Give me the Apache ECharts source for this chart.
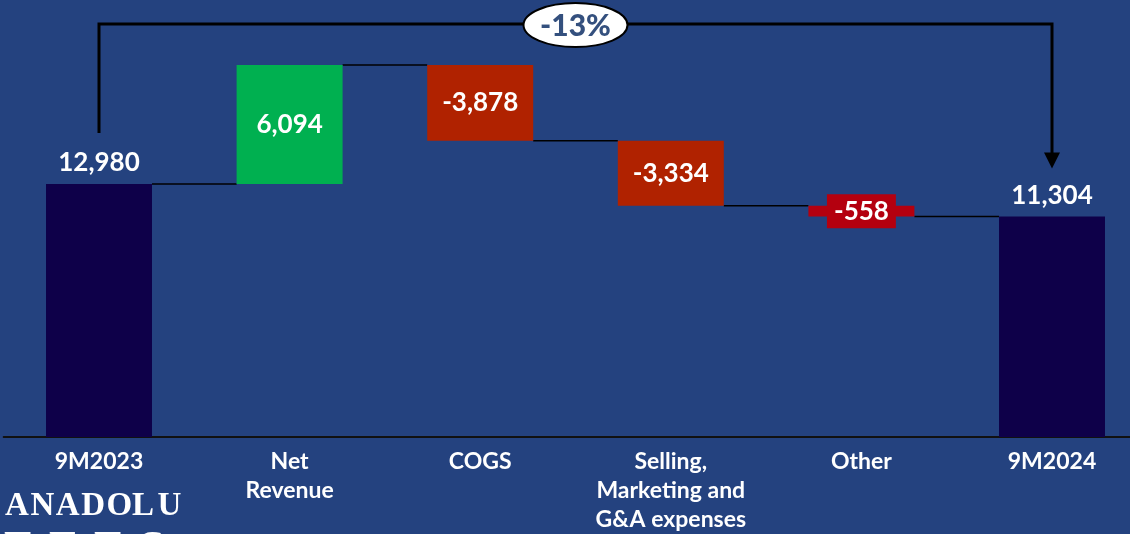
<!DOCTYPE html>
<html>
<head>
<meta charset="utf-8">
<script src="https://cdn.jsdelivr.net/npm/echarts@6/dist/echarts.min.js"></script>
<style>
  html, body { margin: 0; padding: 0; background: #24427F; overflow: hidden; width: 1130px; height: 534px; }
  /* plot runs slightly past the right edge, so the canvas is wider than the page */
  #chart { width: 1148px; height: 534px; }
</style>
</head>
<body>
<div id="chart"></div>
<script>
// Operating profit bridge, 9M2023 -> 9M2024
const categories = ['9M2023', 'Net\nRevenue', 'COGS', 'Selling,\nMarketing and\nG&A expenses', 'Other', '9M2024'];
const values = [12980, 6094, -3878, -3334, -558, 11304];
const isTotal = [true, false, false, false, false, true];
const changeLabel = '-13%';
const logoTop = 'ANADOLU';
const logoBottom = 'EFES';

const BG = '#24427F';
const TOTAL_COLOR = '#0E0049';
const UP_COLOR = '#00B050';
const DOWN_COLOR = '#B02200';
const SMALL_DOWN_COLOR = '#B4000F';
const FONT = 'Lato, "Open Sans", sans-serif';
const BAR_RATIO = 0.556;

// Floating base, visible height and running level after each step
const base = [], height = [], level = [];
let running = 0;
values.forEach((v, i) => {
  if (isTotal[i]) {
    base.push(0); height.push(v); running = v;
  } else if (v >= 0) {
    base.push(running); height.push(v); running += v;
  } else {
    base.push(running + v); height.push(-v); running += v;
  }
  level.push(running);
});

const fmt = v => v.toLocaleString('en-US');

const barData = height.map((h, i) => {
  const v = values[i];
  const small = !isTotal[i] && Math.abs(v) < 1000;
  const color = isTotal[i] ? TOTAL_COLOR : (v >= 0 ? UP_COLOR : (small ? SMALL_DOWN_COLOR : DOWN_COLOR));
  const item = { value: h, itemStyle: { color } };
  if (isTotal[i]) {
    item.label = { position: 'top', distance: 8 };
  } else if (small) {
    item.label = { position: 'inside', backgroundColor: SMALL_DOWN_COLOR, padding: [4, 7] };
  } else {
    item.label = { position: 'inside' };
  }
  return item;
});

// connectors between consecutive bars
const connectorData = [];
for (let i = 0; i < values.length - 1; i++) connectorData.push([i, level[i]]);

function renderConnector(params, api) {
  const i = api.value(0), lv = api.value(1);
  const p1 = api.coord([i, lv]);
  const p2 = api.coord([i + 1, lv]);
  const bw = api.size([1, 0])[0] * BAR_RATIO;
  return {
    type: 'line',
    shape: { x1: p1[0] + bw / 2, y1: p1[1], x2: p2[0] - bw / 2, y2: p2[1] },
    style: { stroke: '#000', lineWidth: 1.5 }
  };
}

// overall change bracket from first total to last total
function renderBracket(params, api) {
  const last = values.length - 1;
  const peak = Math.max.apply(null, level);
  const a = api.coord([0, values[0]]);
  const b = api.coord([last, values[last]]);
  const top = api.coord([0, peak])[1] - 41;
  const aY = a[1] - 51;
  const bY = b[1] - 48;
  const midX = (a[0] + b[0]) / 2;
  return {
    type: 'group',
    children: [
      {
        type: 'polyline',
        shape: { points: [[a[0], aY], [a[0], top], [b[0], top], [b[0], bY - 14]] },
        style: { stroke: '#000', lineWidth: 3, fill: null }
      },
      {
        type: 'polygon',
        shape: { points: [[b[0] - 8, bY - 16], [b[0] + 8, bY - 16], [b[0], bY]] },
        style: { fill: '#000' }
      },
      {
        type: 'ellipse',
        shape: { cx: midX, cy: top + 1, rx: 52, ry: 22 },
        style: { fill: '#fff', stroke: '#000', lineWidth: 2 }
      },
      {
        type: 'text',
        x: midX, y: top + 2,
        style: {
          text: changeLabel, fill: '#34507E',
          font: '900 30px ' + FONT,
          align: 'center', verticalAlign: 'middle'
        }
      }
    ]
  };
}

// logo wordmark, letter by letter
const logoGraphics = [];
for (let i = 0; i < logoTop.length; i++) {
  logoGraphics.push({
    type: 'text', left: 5 + i * 25.4, top: 490,
    style: { text: logoTop[i], fill: '#fff', font: 'bold 33px "Liberation Serif", "DejaVu Serif", serif' }
  });
}
for (let i = 0; i < logoBottom.length; i++) {
  logoGraphics.push({
    type: 'text', left: 4 + i * 45, top: 528,
    style: { text: logoBottom[i], fill: '#fff', font: 'bold 46px "Liberation Serif", "DejaVu Serif", serif' }
  });
}

const chart = echarts.init(document.getElementById('chart'));
chart.setOption({
  backgroundColor: BG,
  animation: false,
  grid: { left: 3.7, right: 0.7, top: 8, bottom: 97 },
  xAxis: {
    type: 'category',
    data: categories,
    axisLine: { show: true, lineStyle: { color: '#111', width: 2 } },
    axisTick: { show: false },
    axisLabel: {
      color: '#fff', fontFamily: FONT, fontSize: 23, fontWeight: 'bold', lineHeight: 29,
      margin: 10, interval: 0
    },
    splitLine: { show: false }
  },
  yAxis: {
    type: 'value', min: 0, max: 22000, show: false,
    splitLine: { show: false }
  },
  graphic: logoGraphics,
  series: [
    {
      name: 'base', type: 'bar', stack: 'wf', data: base,
      barWidth: (BAR_RATIO * 100) + '%',
      itemStyle: { color: 'transparent' },
      emphasis: { disabled: true },
      silent: true
    },
    {
      name: 'value', type: 'bar', stack: 'wf', data: barData,
      barWidth: (BAR_RATIO * 100) + '%',
      label: {
        show: true, color: '#fff', fontFamily: FONT, fontSize: 26, fontWeight: 'bold',
        formatter: p => fmt(values[p.dataIndex])
      },
      z: 3
    },
    {
      name: 'connectors', type: 'custom', data: connectorData,
      renderItem: renderConnector, z: 2, silent: true
    },
    {
      name: 'bracket', type: 'custom', data: [[0, 0]],
      renderItem: renderBracket, z: 5, silent: true
    }
  ]
});
</script>
</body>
</html>
